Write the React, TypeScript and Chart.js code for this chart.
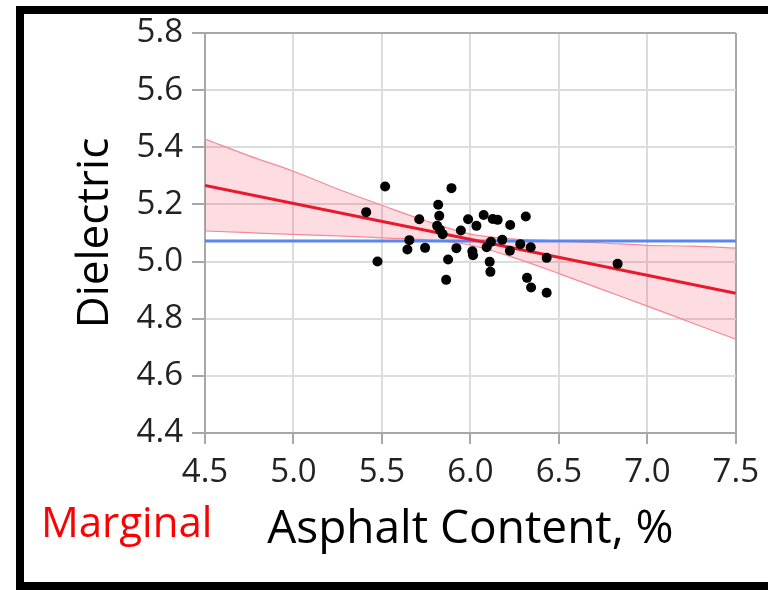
import React, { useEffect, useRef } from 'react';
import { Chart, registerables } from 'chart.js';

Chart.register(...registerables);

// ---- data ----
const asphaltContent = [
  5.518, 5.893, 5.411, 5.818, 5.824, 5.711, 5.812, 5.828, 5.843, 5.987,
  6.034, 5.946, 6.075, 6.126, 6.154, 6.225, 6.313, 5.655, 5.644, 5.744,
  5.475, 5.921, 5.874, 5.863, 6.011, 6.015, 6.092, 6.116, 6.18, 6.223,
  6.282, 6.341, 6.431, 6.109, 6.113, 6.32, 6.343, 6.431, 6.832,
];
const dielectric = [
  5.263, 5.257, 5.173, 5.199, 5.16, 5.148, 5.125, 5.111, 5.096, 5.148,
  5.125, 5.109, 5.163, 5.149, 5.146, 5.128, 5.158, 5.075, 5.042, 5.048,
  5.0, 5.047, 5.007, 4.936, 5.036, 5.022, 5.05, 5.069, 5.076, 5.038,
  5.061, 5.05, 5.013, 4.999, 4.964, 4.943, 4.909, 4.891, 4.992,
];

const fitX = [4.5, 7.5];
const fitY = [5.266, 4.889];

const meanX = [4.5, 7.5];
const meanY = [5.072, 5.072];

const bandX = [4.5, 4.75, 5.0, 5.25, 5.5, 5.75, 6.0, 6.25, 6.5, 6.75, 7.0, 7.25, 7.5];
const bandUpper = [5.429, 5.37, 5.316, 5.254, 5.197, 5.142, 5.096, 5.079, 5.072, 5.065, 5.057, 5.054, 5.047];
const bandLower = [5.107, 5.101, 5.095, 5.09, 5.083, 5.076, 5.058, 5.013, 4.958, 4.901, 4.844, 4.786, 4.728];

const xTicks = [4.5, 5.0, 5.5, 6.0, 6.5, 7.0, 7.5];
const yTicks = [4.4, 4.6, 4.8, 5.0, 5.2, 5.4, 5.6, 5.8];

const xTitle = 'Asphalt Content, %';
const yTitle = 'Dielectric';
const noteText = 'Marginal';

const FONT = '"Open Sans", "Noto Sans", sans-serif';
const GRID = '#dcdcdc';
const AXIS = '#a8a8a8';

const noteLabel = {
  id: 'noteLabel',
  afterDraw(chart: any) {
    const ctx = chart.ctx;
    ctx.save();
    ctx.font = `42px ${FONT}`;
    ctx.fillStyle = '#ff0000';
    ctx.textAlign = 'left';
    ctx.textBaseline = 'alphabetic';
    ctx.fillText(noteText, 41, 537);
    ctx.restore();
  },
};

export default function App() {
  const ref = useRef<HTMLCanvasElement | null>(null);

  useEffect(() => {
    if (!ref.current) return;
    const pts = asphaltContent.map((x, i) => ({ x, y: dielectric[i] }));
    const chart = new Chart(ref.current, {
      type: 'scatter',
      data: {
        datasets: [
          {
            data: pts,
            backgroundColor: '#000000',
            borderColor: '#000000',
            pointRadius: 5,
            borderWidth: 0,
          },
          {
            data: fitX.map((x, i) => ({ x, y: fitY[i] })),
            showLine: true,
            borderColor: '#e8192c',
            borderWidth: 3,
            pointRadius: 0,
          },
          {
            data: meanX.map((x, i) => ({ x, y: meanY[i] })),
            showLine: true,
            borderColor: '#5a86f0',
            borderWidth: 3,
            pointRadius: 0,
          },
          {
            data: bandX.map((x, i) => ({ x, y: bandUpper[i] })),
            showLine: true,
            borderColor: '#f58a96',
            borderWidth: 1.2,
            pointRadius: 0,
            cubicInterpolationMode: 'monotone',
          },
          {
            data: bandX.map((x, i) => ({ x, y: bandLower[i] })),
            showLine: true,
            borderColor: '#f58a96',
            borderWidth: 1.2,
            pointRadius: 0,
            cubicInterpolationMode: 'monotone',
            fill: '-1',
            backgroundColor: 'rgba(240, 30, 60, 0.15)',
          },
        ],
      },
      options: {
        animation: false,
        responsive: false,
        maintainAspectRatio: false,
        devicePixelRatio: 1,
        layout: { padding: { left: 0, top: 33, right: 31, bottom: 0 } },
        plugins: {
          legend: { display: false },
          tooltip: { enabled: false },
        },
        scales: {
          x: {
            type: 'linear',
            min: 4.5,
            max: 7.5,
            afterBuildTicks: (s: any) => {
              s.ticks = xTicks.map((v) => ({ value: v }));
            },
            afterFit: (s: any) => {
              s.height = 157;
            },
            ticks: {
              callback: (v: any) => Number(v).toFixed(1),
              font: { family: FONT, size: 33 },
              color: '#222222',
              padding: 9,
              maxRotation: 0,
              autoSkip: false,
            },
            grid: {
              color: (c: any) => (c.tick && c.tick.value === 7.5 ? AXIS : GRID),
              lineWidth: 2,
              tickColor: AXIS,
              tickLength: 11,
              drawTicks: true,
            },
            border: { display: true, color: AXIS, width: 2 },
            title: {
              display: true,
              text: xTitle,
              font: { family: FONT, size: 46 },
              color: '#000000',
              padding: { top: 0, bottom: 33 },
            },
          },
          y: {
            type: 'linear',
            min: 4.4,
            max: 5.8,
            afterBuildTicks: (s: any) => {
              s.ticks = yTicks.map((v) => ({ value: v }));
            },
            afterFit: (s: any) => {
              s.width = 205;
            },
            ticks: {
              callback: (v: any) => Number(v).toFixed(1),
              font: { family: FONT, size: 33 },
              color: '#222222',
              padding: 9,
              autoSkip: false,
            },
            grid: {
              color: (c: any) => (c.tick && c.tick.value === 5.8 ? AXIS : GRID),
              lineWidth: 2,
              tickColor: AXIS,
              tickLength: 13,
              drawTicks: true,
            },
            border: { display: true, color: AXIS, width: 2 },
            title: {
              display: true,
              text: yTitle,
              font: { family: FONT, size: 44 },
              color: '#000000',
              padding: { top: 69, bottom: 0 },
            },
          },
        },
      },
      plugins: [noteLabel],
    } as any);

    if ((document as any).fonts && (document as any).fonts.load) {
      (document as any).fonts
        .load(`33px ${FONT}`)
        .then(() => chart.update())
        .catch(() => {});
    }

    return () => {
      chart.destroy();
    };
  }, []);

  return (
    <div style={{ position: 'absolute', left: 0, top: 0, width: 768, height: 590, background: '#ffffff', overflow: 'hidden' }}>
      <div
        style={{
          position: 'absolute',
          left: 16,
          top: 6,
          width: 752,
          height: 584,
          boxSizing: 'border-box',
          borderLeft: '8px solid #000',
          borderTop: '8px solid #000',
          borderBottom: '8px solid #000',
        }}
      />
      <canvas
        ref={ref}
        width={768}
        height={590}
        style={{ position: 'absolute', left: 0, top: 0, width: 768, height: 590 }}
      />
    </div>
  );
}
